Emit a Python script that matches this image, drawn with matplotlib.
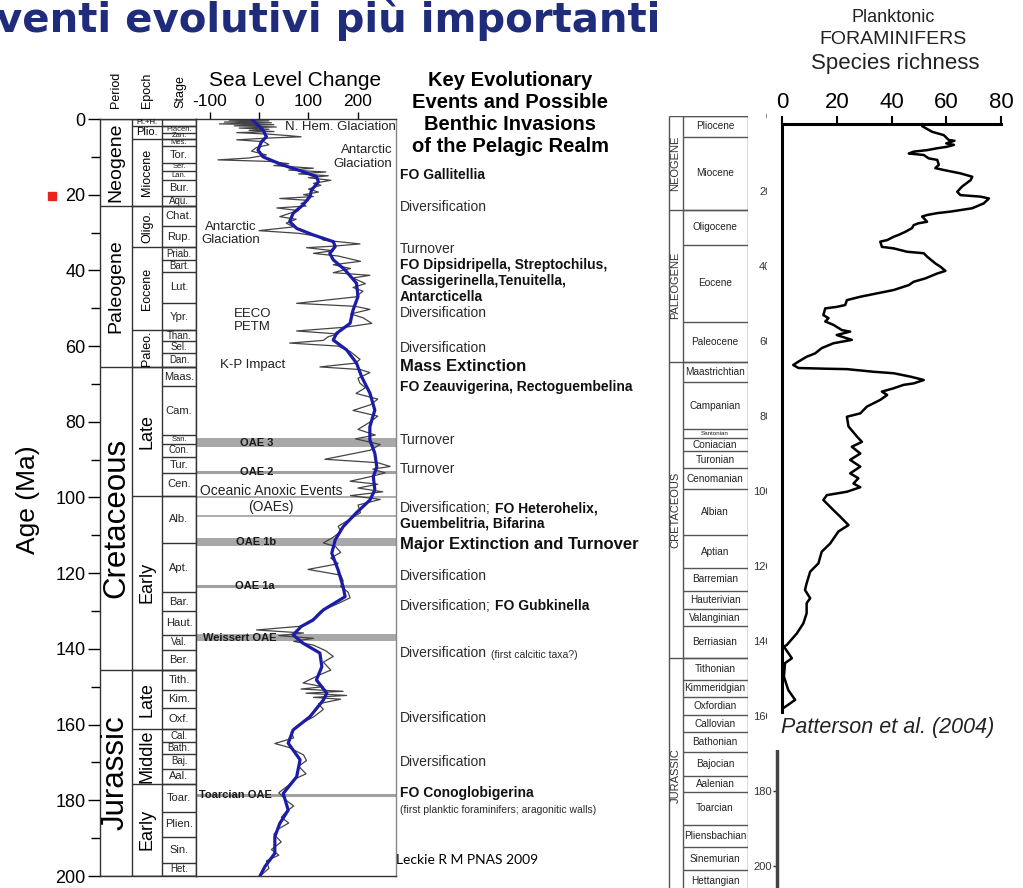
import matplotlib.pyplot as plt
from matplotlib.patches import Rectangle
from matplotlib.ticker import MultipleLocator

W, H = 1023, 888
plt.rcParams['font.family'] = ['Liberation Sans', 'DejaVu Sans']
plt.rcParams['axes.unicode_minus'] = False

# --- geological time scale (left panel, Ma) ---
period_names = ["Neogene", "Paleogene", "Cretaceous", "Jurassic"]
period_bounds = [0.0, 23.0, 65.5, 145.5, 200.0]

epoch_names = ["Pl.+H.", "Plio.", "Miocene", "Oligo.", "Eocene", "Paleo.",
               "Late", "Early", "Late", "Middle", "Early"]
epoch_bounds = [0.0, 1.8, 5.3, 23.0, 33.9, 55.8, 65.5, 99.6, 145.5, 161.2, 175.6, 200.0]

stage_names = ["", "Piacen.", "Zan.", "Mes.", "Tor.", "Ser.", "Lan.", "Bur.", "Aqu.",
               "Chat.", "Rup.", "Priab.", "Bart.", "Lut.", "Ypr.", "Than.", "Sel.", "Dan.",
               "Maas.", "Cam.", "San.", "Con.", "Tur.", "Cen.", "Alb.", "Apt.", "Bar.",
               "Haut.", "Val.", "Ber.", "Tith.", "Kim.", "Oxf.", "Cal.", "Bath.", "Baj.",
               "Aal.", "Toar.", "Plien.", "Sin.", "Het."]
stage_bounds = [0.0, 1.8, 3.6, 5.3, 7.2, 11.6, 13.7, 16.0, 20.4, 23.0,
                28.4, 33.9, 37.2, 40.4, 48.6, 55.8, 58.7, 61.7, 65.5,
                70.6, 83.5, 85.8, 89.3, 93.5, 99.6, 112.0, 125.0, 130.0,
                136.4, 140.2, 145.5, 150.8, 155.7, 161.2, 164.7, 167.7, 171.6,
                175.6, 183.0, 189.6, 196.5, 200.0]

# --- sea level change (m) ---
sl_detail_age = [0.0, 0.3, 0.5, 0.8, 1.0, 1.3, 1.5, 1.8, 2.1, 2.4, 2.7, 3.0, 3.3, 3.6,
                 4.0, 4.4, 4.7, 5.0, 5.5, 6.0, 6.8, 7.5, 8.5, 9.5, 10.3, 10.8, 11.2, 11.8,
                 12.3, 13.0, 13.5, 14.0, 14.5, 15.0, 15.5, 16.2, 17.0, 17.5, 18.5, 19.3,
                 20.0, 20.5, 21.0, 21.5, 22.3, 23.0, 23.5, 24.2, 25.0, 25.8, 26.5, 27.5,
                 28.5, 29.5, 30.2, 31.0, 32.0, 33.0, 33.6, 34.0, 34.8, 35.5, 36.2, 37.6,
                 38.5, 39.5, 40.6, 41.3, 42.0, 43.5, 44.5, 45.5, 47.0, 48.7, 49.5, 50.3,
                 51.5, 52.5, 54.0, 55.0, 56.0, 56.8, 57.5, 58.5, 59.2, 60.0, 61.5, 63.5,
                 64.5, 65.5, 66.2, 67.0, 68.5, 69.8, 71.0, 72.5, 74.0, 75.5, 77.0, 78.5,
                 80.0, 82.0, 83.5, 84.5, 86.0, 87.5, 89.9, 90.8, 91.8, 92.5, 93.5, 94.5,
                 95.7, 96.5, 97.5, 98.5, 99.5, 100.5, 102.0, 104.0, 106.0, 107.6, 109.0,
                 110.5, 112.0, 113.0, 114.5, 116.0, 117.5, 119.0, 120.5, 122.0, 123.5,
                 125.0, 126.5, 128.0, 130.0, 132.0, 134.0, 135.0, 135.8, 136.5, 137.2,
                 138.0, 139.0, 140.5, 142.0, 143.5, 145.6, 147.0, 149.0, 150.0, 150.6,
                 151.2, 151.7, 152.3, 152.8, 153.3, 154.5, 156.0, 158.0, 160.0, 162.0,
                 163.5, 165.0, 166.0, 168.0, 169.5, 171.0, 173.0, 174.5, 176.0, 178.0,
                 180.0, 181.5, 183.0, 184.5, 186.0, 187.5, 189.0, 191.0, 193.0, 194.5,
                 196.0, 198.0, 200.0]
sl_detail = [-10, -60, 20, -70, 25, -80, 30, -50, 35, -40, 20, -20, 30, -45,
             20, 60, 85, 25, -45, 10, 20, -5, -15, 15, -20, -83, 20, 60,
             30, 110, 60, 135, 80, 140, 100, 145, 110, 125, 100, 120,
             90, 110, 42, 100, 85, 95, 36, 80, 60, 42, 75, 55,
             70, 0, 80, 120, 130, 204, 150, 96, 150, 110, 160, 205,
             150, 185, 150, 224, 190, 215, 190, 210, 195, 76, 195, 224,
             185, 210, 228, 175, 76, 160, 140, 130, 62, 160, 185, 204,
             195, 123, 205, 224, 200, 204, 215, 196, 240, 225, 190, 240,
             225, 200, 235, 195, 245, 225, 133, 240, 265, 230, 255, 225,
             184, 240, 200, 250, 185, 245, 200, 205, 180, 160, 165,
             150, 130, 155, 165, 145, 160, 99, 165, 170, 165,
             180, 184, 160, 125, 110, 85, -5, 90, 40, 110,
             70, 110, 135, 150, 130, 145, 120, 89, 130, 85,
             170, 95, 177, 110, 165, 120, 130, 110, 80, 65,
             70, 32, 60, 90, 96, 80, 95, 70, 60, 40,
             55, 70, 55, 45, 60, 40, 30, 45, 25, 40,
             15, 20, 2]

sl_long_age = [0.0, 2.9, 4.7, 6.0, 8.2, 10.0, 12.2, 13.9, 15.2, 16.6, 18.8, 20.5, 22.7,
               24.9, 27.1, 28.9, 30.6, 32.4, 33.7, 35.5, 37.2, 39.9, 43.4, 46.9, 50.5,
               54.0, 56.6, 58.4, 61.0, 64.5, 68.0, 72.4, 76.9, 81.3, 84.8, 88.3, 91.9,
               94.5, 98.0, 100.7, 104.0, 107.7, 111.2, 114.7, 119.2, 123.6, 126.2, 129.7,
               132.4, 134.1, 136.3, 138.5, 141.1, 144.7, 148.2, 151.7, 153.5, 157.9,
               161.4, 164.9, 169.3, 173.8, 178.2, 182.6, 186.1, 189.6, 194.0, 197.5, 200.0]
sl_long = [-15, 8, 15, 5, -2, 8, 49, 89, 116, 120, 106, 103, 89,
           69, 62, 76, 109, 150, 154, 143, 150, 174, 197, 200, 190,
           184, 157, 150, 177, 197, 207, 224, 234, 224, 224, 234, 238,
           231, 234, 224, 197, 170, 154, 147, 160, 170, 174, 130,
           109, 85, 69, 89, 123, 127, 116, 137, 130, 103,
           69, 59, 83, 76, 49, 59, 42, 32, 32, 12, 2]

# --- oceanic anoxic events ---
oae_band_names = ["OAE 3", "OAE 1b", "Weissert OAE"]
oae_band_top = [84.2, 110.6, 136.0]
oae_band_bot = [86.7, 112.8, 138.0]
oae_line_names = ["OAE 2", "", "", "OAE 1a", "Toarcian OAE"]
oae_line_ages = [93.3, 99.8, 105.0, 123.3, 178.5]

# --- key evolutionary events (r regular, b bold, B large bold, s small) ---
event_ages = [14.8, 23.2, 34.3, 38.6, 42.8, 47.0, 51.3, 60.5, 65.5, 70.8, 84.8, 92.5,
              102.8, 107.0, 112.3, 120.7, 128.7, 141.1, 158.3, 169.9, 178.0, 182.6]
event_lines = [
    [("FO Gallitellia", "b")],
    [("Diversification", "r")],
    [("Turnover", "r")],
    [("FO Dipsidripella, Streptochilus,", "b")],
    [("Cassigerinella,Tenuitella,", "b")],
    [("Antarcticella", "b")],
    [("Diversification", "r")],
    [("Diversification", "r")],
    [("Mass Extinction", "B")],
    [("FO Zeauvigerina, Rectoguembelina", "b")],
    [("Turnover", "r")],
    [("Turnover", "r")],
    [("Diversification;", "r"), ("FO Heterohelix,", "b")],
    [("Guembelitria, Bifarina", "b")],
    [("Major Extinction and Turnover", "B")],
    [("Diversification", "r")],
    [("Diversification;", "r"), ("FO Gubkinella", "b")],
    [("Diversification", "r"), ("(first calcitic taxa?)", "s")],
    [("Diversification", "r")],
    [("Diversification", "r")],
    [("FO Conoglobigerina", "b")],
    [("(first planktic foraminifers; aragonitic walls)", "s")],
]

# --- time scale of the richness panel (Ma) ---
rs_period_names = ["NEOGENE", "PALEOGENE", "CRETACEOUS", "JURASSIC"]
rs_period_bounds = [0.0, 25.0, 65.5, 144.5, 207.0]
rs_stage_names = ["Pliocene", "Miocene", "Oligocene", "Eocene", "Paleocene",
                  "Maastrichtian", "Campanian", "Santonian", "Coniacian", "Turonian",
                  "Cenomanian", "Albian", "Aptian", "Barremian", "Hauterivian",
                  "Valanginian", "Berriasian", "Tithonian", "Kimmeridgian", "Oxfordian",
                  "Callovian", "Bathonian", "Bajocian", "Aalenian", "Toarcian",
                  "Pliensbachian", "Sinemurian", "Hettangian"]
rs_stage_bounds = [0.0, 5.5, 25.0, 34.4, 54.9, 65.5, 70.9, 83.5, 86.0, 89.3, 94.0,
                   99.5, 111.7, 120.6, 126.6, 131.5, 136.0, 144.5, 150.4, 154.8,
                   159.7, 164.3, 169.6, 176.0, 180.2, 189.0, 195.0, 201.0, 207.0]

# --- planktonic foraminifer species richness ---
rich_age = [2.2, 2.7, 4.2, 5.1, 6.4, 6.6, 7.3, 7.7, 8.2, 8.6, 9.1, 9.5, 10.0, 10.4,
            11.3, 11.7, 13.0, 13.9, 14.4, 15.3, 16.2, 17.1, 18.8, 20.2, 21.1, 21.5,
            22.0, 23.3, 24.6, 25.5, 25.9, 26.4, 26.8, 28.2, 28.6, 29.1, 29.9, 30.9,
            31.7, 32.2, 33.1, 33.5, 34.9, 35.3, 36.2, 36.6, 37.5, 39.3, 40.2, 41.3,
            42.0, 43.3, 44.2, 45.1, 46.4, 47.3, 48.2, 49.1, 50.4, 50.9, 51.3, 53.1,
            53.9, 54.8, 55.7, 57.1, 57.5, 58.4, 59.7, 60.6, 61.9, 63.3, 64.2, 65.5,
            66.4, 67.2, 67.4, 67.5, 68.2, 68.6, 69.5, 70.4, 71.3, 71.7, 72.6, 73.5,
            74.4, 75.7, 77.5, 79.3, 80.2, 82.8, 85.5, 86.9, 88.2, 90.0, 91.7, 93.5,
            95.3, 96.6, 98.0, 99.0, 100.2, 101.1, 102.4, 105.1, 106.8, 109.1, 110.8,
            114.0, 116.2, 119.3, 121.5, 124.6, 126.4, 128.6, 129.9, 132.6, 135.3,
            138.0, 141.1, 141.5, 144.6, 145.9, 149.5, 153.1, 155.7, 157.9]
rich_species = [51, 51.2, 54.8, 59.1, 60.9, 63, 60, 62.8, 60.3, 56.7, 53, 48.1, 46.3, 51.8,
                53.6, 56.7, 57.3, 56, 59.1, 65.2, 69.5, 68.9, 65.8, 64, 65.2, 72.5,
                75.6, 73.7, 69.5, 61.5, 56.7, 53, 51.2, 53, 49.9, 48.1, 47.5, 45,
                42.6, 40.8, 38.4, 35.9, 36.5, 40.8, 45.7, 51.8, 53, 56, 57.9, 59.7,
                56.7, 52.4, 48.1, 46.3, 40.8, 34.7, 28.6, 23.7, 23.1, 20, 15.8, 15.1,
                17, 15.8, 18.8, 21.9, 24.9, 20, 25.5, 18.8, 14.5, 12.1, 9, 6,
                4.1, 6, 16.4, 23.7, 33.4, 40.8, 46.9, 51.8, 48.1, 44.4, 40.8, 36.5,
                38.4, 35.9, 31, 28.6, 23.7, 24.3, 27.4, 29.2, 25.5, 28.6, 24.9, 28.6,
                24.9, 27.9, 26.1, 28.6, 23.7, 16.4, 15.1, 18.8, 21.2, 24.3, 20.6,
                17.6, 14.5, 13.3, 10.3, 9, 8.4, 10.3, 9, 9, 7.8,
                5.4, 1.7, 0.7, 3.6, 1.1, 0.7, 2.3, 4.8, 0.5]

fig = plt.figure(figsize=(W / 100, H / 100), dpi=100)
fig.patch.set_facecolor('white')


def px_axes(x0, y0, x1, y1):
    # axes placed by pixel box (top-left origin)
    return fig.add_axes([x0 / W, 1 - y1 / H, (x1 - x0) / W, (y1 - y0) / H])


def ftext(x, y, s, **kw):
    return fig.text(x / W, 1 - y / H, s, **kw)


line_kw = dict(color='#333333', lw=1)

# ---------------- left: stratigraphic columns ----------------
ax_col = px_axes(100, 119, 196, 876)
ax_col.set_xlim(0, 96)
ax_col.set_ylim(200, 0)
ax_col.set_xticks([])
ax_col.yaxis.set_major_locator(MultipleLocator(20))
ax_col.yaxis.set_minor_locator(MultipleLocator(10))
ax_col.tick_params(axis='y', which='major', length=8.5, width=1, labelsize=13, pad=2)
ax_col.tick_params(axis='y', which='minor', length=6.5, width=1)
for s in ax_col.spines.values():
    s.set_linewidth(1)
    s.set_color('#333333')
ax_col.vlines([32, 62], 0, 200, **line_kw)
ax_col.hlines(period_bounds, 0, 96, **line_kw)
ax_col.hlines(epoch_bounds, 32, 96, **line_kw)
ax_col.hlines(stage_bounds, 62, 96, **line_kw)

for name, top, bot in zip(period_names, period_bounds[:-1], period_bounds[1:]):
    size = 22.5 if bot - top > 50 else 14
    ax_col.text(16, (top + bot) / 2, name, rotation=90, ha='center', va='center',
                fontsize=size)

for name, top, bot in zip(epoch_names, epoch_bounds[:-1], epoch_bounds[1:]):
    mid = (top + bot) / 2
    if name == "Pl.+H.":
        ax_col.text(47, mid, name, ha='center', va='center', fontsize=5.5)
    elif name == "Plio.":
        ax_col.text(47, mid, name, ha='center', va='center', fontsize=8)
    elif name in ("Late", "Early", "Middle"):
        ax_col.text(47, mid, name, rotation=90, ha='center', va='center', fontsize=13)
    else:
        ax_col.text(47, mid, name, rotation=90, ha='center', va='center', fontsize=9)

for name, top, bot in zip(stage_names, stage_bounds[:-1], stage_bounds[1:]):
    h = bot - top
    size = 5.5 if h < 2.5 else (7 if h < 4 else 8)
    ax_col.text(79, (top + bot) / 2, name, ha='center', va='center', fontsize=size,
                color='#222222')

ftext(28, 500, "Age (Ma)", rotation=90, ha='center', va='center', fontsize=19)
ftext(116, 108, "Period", rotation=90, ha='center', va='bottom', fontsize=9)
ftext(147, 108, "Epoch", rotation=90, ha='center', va='bottom', fontsize=9)
ftext(180, 108, "Stage", rotation=90, ha='center', va='bottom', fontsize=9)
fig.patches.append(Rectangle((48 / W, 1 - 200 / H), 8 / W, 8 / H,
                             transform=fig.transFigure, color='#e8241c'))

# ---------------- left: sea level curve ----------------
ax_sl = px_axes(196, 119, 396, 876)
ax_sl.set_xlim(-127.3, 276.8)
ax_sl.set_ylim(200, 0)
ax_sl.set_yticks([])
ax_sl.xaxis.tick_top()
ax_sl.set_xticks([-100, 0, 100, 200])
ax_sl.tick_params(axis='x', length=5, width=1, labelsize=12.5, pad=2)
for s in ax_sl.spines.values():
    s.set_linewidth(1)
    s.set_color('#333333')
ax_sl.spines['right'].set_color('#888888')
ftext(295, 80, "Sea Level Change", ha='center', va='center', fontsize=15)

for top, bot in zip(oae_band_top, oae_band_bot):
    ax_sl.axhspan(top, bot, color='#a8a8a8', lw=0, zorder=1)
for name, age in zip(oae_line_names, oae_line_ages):
    ax_sl.axhline(age, color='#a0a0a0', lw=2.2 if name else 1.2, zorder=1)

oae_kw = dict(fontsize=8, fontweight='bold', va='center', color='#1a1a1a', zorder=4)
ax_sl.text(-4, 85.6, oae_band_names[0], ha='center', **oae_kw)
ax_sl.text(-6, 111.8, oae_band_names[1], ha='center', **oae_kw)
ax_sl.text(-113, 137.0, oae_band_names[2], ha='left', **oae_kw)
ax_sl.text(-4, oae_line_ages[0], oae_line_names[0], ha='center', **oae_kw)
ax_sl.text(-8, oae_line_ages[3], oae_line_names[3], ha='center', **oae_kw)
ax_sl.text(-121, oae_line_ages[4], oae_line_names[4], ha='left', **oae_kw)

ax_sl.plot(sl_detail, sl_detail_age, color='#444444', lw=0.9, zorder=2)
ax_sl.plot(sl_long, sl_long_age, color='#1c1ca8', lw=2.3, zorder=3,
           solid_joinstyle='round', solid_capstyle='round')

note_kw = dict(fontsize=9.5, color='#222222', zorder=4)
ax_sl.text(52, 2.1, "N. Hem. Glaciation", ha='left', va='center', **note_kw)
ax_sl.text(269, 10.0, "Antarctic\nGlaciation", ha='right', va='center',
           multialignment='right', linespacing=1.15, **note_kw)
ax_sl.text(-58, 30.3, "Antarctic\nGlaciation", ha='center', va='center',
           linespacing=1.15, **note_kw)
ax_sl.text(-13, 53.3, "EECO\nPETM", ha='center', va='center', linespacing=1.1, **note_kw)
ax_sl.text(-13, 65.0, "K-P Impact", ha='center', va='center', **note_kw)
ax_sl.text(25, 98.2, "Oceanic Anoxic Events", ha='center', va='center',
           fontsize=10, color='#222222', zorder=4)
ax_sl.text(23, 102.4, "(OAEs)", ha='center', va='center', fontsize=10,
           color='#222222', zorder=4)

# ---------------- events column ----------------
ftext(510, 114, "Key Evolutionary\nEvents and Possible\nBenthic Invasions\nof the Pelagic Realm",
      ha='center', va='center', multialignment='center', fontsize=14.5,
      fontweight='bold', linespacing=1.2)

styles = {
    'r': dict(fontsize=10, color='#2a2a2a'),
    'b': dict(fontsize=10, fontweight='bold', color='#111111'),
    'B': dict(fontsize=12, fontweight='bold', color='#111111'),
    's': dict(fontsize=7.5, color='#2a2a2a'),
}
ytrans = ax_sl.get_yaxis_transform()
for age, segs in zip(event_ages, event_lines):
    first, st = segs[0]
    prev = ax_sl.text(1.02, age, first, transform=ytrans, ha='left', va='center',
                      clip_on=False, **styles[st])
    for seg, st in segs[1:]:
        prev = ax_sl.annotate(seg, xy=(1, 0), xycoords=prev, xytext=(3, 0),
                              textcoords='offset points', ha='left', va='bottom',
                              **styles[st])

ftext(396, 860, "Leckie R M PNAS 2009", ha='left', va='center', fontsize=10,
      family='Lato')

# ---------------- right: richness time scale ----------------
rs_bottom = (888 - 116) / 3.75
ax_ts = px_axes(668, 116, 748, 888)
ax_ts.set_xlim(0, 80)
ax_ts.set_ylim(rs_bottom, 0)
ax_ts.axis('off')
ts_kw = dict(color='#555555', lw=1)
ax_ts.vlines([0.5, 15, 79.5], 0, rs_bottom, **ts_kw)
ax_ts.hlines(rs_period_bounds[:-1], 0.5, 79.5, **ts_kw)
ax_ts.hlines(rs_stage_bounds[:-1], 15, 79.5, **ts_kw)
for name, top, bot in zip(rs_period_names, rs_period_bounds[:-1], rs_period_bounds[1:]):
    ax_ts.text(7.5, (top + bot) / 2, name, rotation=90, ha='center', va='center',
               fontsize=8, color='#333333')
for name, top, bot in zip(rs_stage_names, rs_stage_bounds[:-1], rs_stage_bounds[1:]):
    size = 4.5 if bot - top < 3 else 7.2
    ax_ts.text(47, (top + bot) / 2, name, ha='center', va='center', fontsize=size,
               color='#222222')

ax_age = px_axes(777, 116, 778, 888)
ax_age.set_ylim(rs_bottom, 0)
ax_age.set_xticks([])
ax_age.set_yticks(range(0, 201, 20))
ax_age.tick_params(axis='y', length=3, width=1, labelsize=8, pad=1, colors='#333333')
for side in ('top', 'right', 'bottom'):
    ax_age.spines[side].set_visible(False)
ax_age.spines['left'].set_linewidth(2.5)
ax_age.spines['left'].set_color('#444444')
ax_age.patch.set_alpha(0)

# white panel carrying the richness plot
ax_cover = px_axes(767, 0, 1023, 750)
ax_cover.set_xticks([])
ax_cover.set_yticks([])
for s in ax_cover.spines.values():
    s.set_visible(False)
ax_cover.set_facecolor('white')

ax_rich = px_axes(782, 124, 1001, 712)
ax_rich.set_xlim(0, 80)
ax_rich.set_ylim((712 - 116) / 3.75, (124 - 116) / 3.75)
ax_rich.patch.set_alpha(0)
ax_rich.set_yticks([])
ax_rich.xaxis.tick_top()
ax_rich.set_xticks([0, 20, 40, 60, 80])
ax_rich.tick_params(axis='x', length=6, width=1.5, labelsize=16, pad=2)
ax_rich.spines['right'].set_visible(False)
ax_rich.spines['bottom'].set_visible(False)
ax_rich.spines['top'].set_linewidth(2.2)
ax_rich.spines['left'].set_linewidth(2.2)
ax_rich.plot(rich_species, rich_age, color='black', lw=1.8, clip_on=False)

ftext(893, 18, "Planktonic", ha='center', va='center', fontsize=13, color='#222222')
ftext(893, 39, "FORAMINIFERS", ha='center', va='center', fontsize=14, color='#222222')
ftext(895, 63, "Species richness", ha='center', va='center', fontsize=16, color='#222222')
ftext(781, 727, "Patterson et al. (2004)", ha='left', va='center', fontsize=15.5,
      style='italic', color='#222222')

# ---------------- slide title ----------------
ftext(-4, 32, "venti evolutivi più importanti", ha='left', va='baseline', fontsize=29,
      fontweight='bold', color='#1f2b7b', family='DejaVu Sans')

fig.savefig('out.png', dpi=100, facecolor='white')
